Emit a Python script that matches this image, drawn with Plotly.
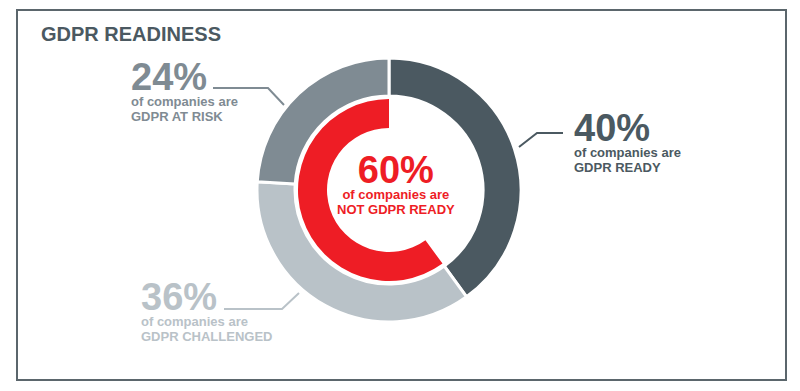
import plotly.graph_objects as go

W, H = 800, 391

# ---- data ----
segments = ["GDPR READY", "GDPR CHALLENGED", "GDPR AT RISK"]
shares = [40, 36, 24]
seg_colors = ["#4b5961", "#b9c2c8", "#7f8b93"]

inner_labels = ["READY", "NOT GDPR READY"]
inner_values = [40, 60]
inner_colors = ["rgba(0,0,0,0)", "#ee1d25"]

title_text = "GDPR READINESS"
sub_text = "of companies are"

def px(x):
    return x / W

def py(y):
    return 1 - y / H

cx, cy = 389, 190
R_out, R_out_in = 132, 94
R_in, R_in_in = 91, 62

fig = go.Figure()
fig.add_trace(go.Pie(
    labels=segments, values=shares, sort=False, direction="clockwise", rotation=0,
    hole=R_out_in / R_out,
    marker=dict(colors=seg_colors, line=dict(color="white", width=3)),
    textinfo="none", hoverinfo="skip", showlegend=False,
    domain=dict(x=[px(cx - R_out), px(cx + R_out)], y=[py(cy + R_out), py(cy - R_out)]),
))
fig.add_trace(go.Pie(
    labels=inner_labels, values=inner_values, sort=False, direction="clockwise", rotation=0,
    hole=R_in_in / R_in,
    marker=dict(colors=inner_colors, line=dict(color="white", width=0)),
    textinfo="none", hoverinfo="skip", showlegend=False,
    domain=dict(x=[px(cx - R_in), px(cx + R_in)], y=[py(cy + R_in), py(cy - R_in)]),
))

FONT = "Liberation Sans, Arial, Helvetica, sans-serif"
ann = []

def block(x, ybottom, pct, label, color, anchor="left"):
    s = (f"<span style='font-size:38px'><b>{pct}%</b></span><br>"
         f"<span style='font-size:13px'><b>{sub_text}</b></span><br>"
         f"<span style='font-size:13px'><b>{label}</b></span>")
    ann.append(dict(x=px(x), y=py(ybottom), xref="paper", yref="paper", text=s,
                    showarrow=False, xanchor=anchor, yanchor="bottom", align=anchor,
                    font=dict(family=FONT, size=12, color=color)))

ann.append(dict(x=px(39), y=py(34), xref="paper", yref="paper", text=f"<b>{title_text}</b>",
                showarrow=False, xanchor="left", yanchor="middle",
                font=dict(family=FONT, size=20, color="#4b5961")))

block(129, 126, shares[2], segments[2], seg_colors[2])
block(572, 177, shares[0], segments[0], seg_colors[0])
block(139, 346, shares[1], segments[1], seg_colors[1])
block(396, 219, inner_values[1], inner_labels[1], inner_colors[1], anchor="center")

shapes = []
shapes.append(dict(type="rect", xref="paper", yref="paper",
                   x0=px(17), x1=px(786), y0=py(380), y1=py(10),
                   line=dict(color="#5b666c", width=2), fillcolor="rgba(0,0,0,0)"))

def leader(points, color):
    d = "M " + " L ".join(f"{px(x)},{py(y)}" for x, y in points)
    shapes.append(dict(type="path", xref="paper", yref="paper", path=d,
                       line=dict(color=color, width=2)))

leader([(213, 88), (268, 88), (284, 105)], seg_colors[2])
leader([(563, 133), (537, 133), (519, 147)], seg_colors[0])
leader([(224, 309), (282, 309), (299, 293)], seg_colors[1])

fig.update_layout(
    width=W, height=H, margin=dict(l=0, r=0, t=0, b=0),
    paper_bgcolor="white", plot_bgcolor="white",
    annotations=ann, shapes=shapes,
)

fig.write_html("out.html", config={"displayModeBar": False},
               post_script="document.body.style.margin='0';")

with open("out.html", encoding="utf-8") as f:
    html = f.read()
html = html.replace("<body>", "<body style=\"margin:0;padding:0;overflow:hidden\">", 1)
with open("out.html", "w", encoding="utf-8") as f:
    f.write(html)
